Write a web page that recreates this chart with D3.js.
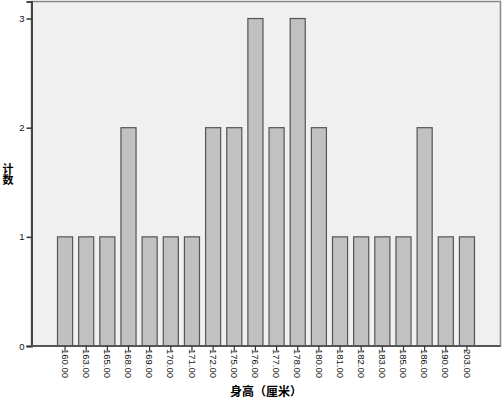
<!DOCTYPE html>
<html lang="zh">
<head>
<meta charset="UTF-8">
<title>身高（厘米）</title>
<script src="https://cdnjs.cloudflare.com/ajax/libs/d3/7.8.5/d3.min.js"></script>
<style>
    body { margin: 0; background: #fff; }
    svg { display: block; }
    .tick text { font-family: Arial, "Liberation Sans", sans-serif; font-size: 9.5px; fill: #111; }
    .title { font-family: "Noto Sans CJK SC", sans-serif; font-size: 12px; font-weight: bold; fill: #000; }
</style>
</head>
<body>
<svg id="chart" width="502" height="399"></svg>
<script>
    // heights (cm) and counts
    const heights = ["160.00", "163.00", "165.00", "168.00", "169.00", "170.00", "171.00", "172.00",
        "175.00", "176.00", "177.00", "178.00", "180.00", "181.00", "182.00", "183.00",
        "185.00", "186.00", "190.00", "203.00"];
    const counts = [1, 1, 1, 2, 1, 1, 1, 2, 2, 3, 2, 3, 2, 1, 1, 1, 1, 2, 1, 1];
    const yTicks = [0, 1, 2, 3];

    const svg = d3.select("#chart");
    const plot = { left: 31.5, right: 500.5, top: 1.5, bottom: 346 };

    const x = d3.scaleBand()
        .domain(heights)
        .range([57, 475])
        .paddingInner(0.24)
        .paddingOuter(0);

    const y = d3.scaleLinear()
        .domain([0, 3.156])
        .range([plot.bottom, plot.top]);

    // plot background
    svg.append("rect")
        .attr("x", plot.left)
        .attr("y", plot.top)
        .attr("width", plot.right - plot.left)
        .attr("height", plot.bottom - plot.top)
        .attr("fill", "#f0f0f0")
        .attr("stroke", "#888")
        .attr("stroke-width", 1.5);

    // bars
    svg.append("g")
        .selectAll("rect")
        .data(heights)
        .enter()
        .append("rect")
        .attr("x", d => x(d) + 0.5)
        .attr("y", (d, i) => y(counts[i]))
        .attr("width", x.bandwidth() - 1)
        .attr("height", (d, i) => y(0) - y(counts[i]))
        .attr("fill", "#c1c1c1")
        .attr("stroke", "#555")
        .attr("stroke-width", 1.2);

    // y axis
    const yAxis = svg.append("g")
        .attr("transform", `translate(${plot.left},0)`)
        .call(d3.axisLeft(y).tickValues(yTicks).tickFormat(d3.format("d")).tickSize(5).tickPadding(2));
    yAxis.select(".domain").attr("stroke", "#444").attr("stroke-width", 2);
    yAxis.selectAll(".tick line").attr("stroke", "#333").attr("stroke-width", 1.5);

    // x axis
    const xAxis = svg.append("g")
        .attr("transform", `translate(0,${plot.bottom})`)
        .call(d3.axisBottom(x).tickSize(5).tickSizeOuter(0));
    xAxis.select(".domain").attr("d", `M${plot.left},0H${plot.right}`)
        .attr("stroke", "#555").attr("stroke-width", 2);
    xAxis.selectAll(".tick line").attr("stroke", "#333").attr("stroke-width", 1.2);
    xAxis.selectAll(".tick text")
        .attr("transform", "rotate(90)")
        .attr("text-anchor", "start")
        .attr("x", 3)
        .attr("y", 0)
        .attr("dy", "0.35em");

    // axis titles
    svg.append("text")
        .attr("class", "title")
        .attr("x", 266)
        .attr("y", 396)
        .attr("text-anchor", "middle")
        .text("身高（厘米）");

    // vertical y title, upright characters
    svg.append("text")
        .attr("class", "title")
        .attr("x", 8)
        .attr("y", 174)
        .attr("text-anchor", "middle")
        .style("font-size", "11px")
        .style("writing-mode", "vertical-rl")
        .style("text-orientation", "upright")
        .text("计数");
</script>
</body>
</html>
